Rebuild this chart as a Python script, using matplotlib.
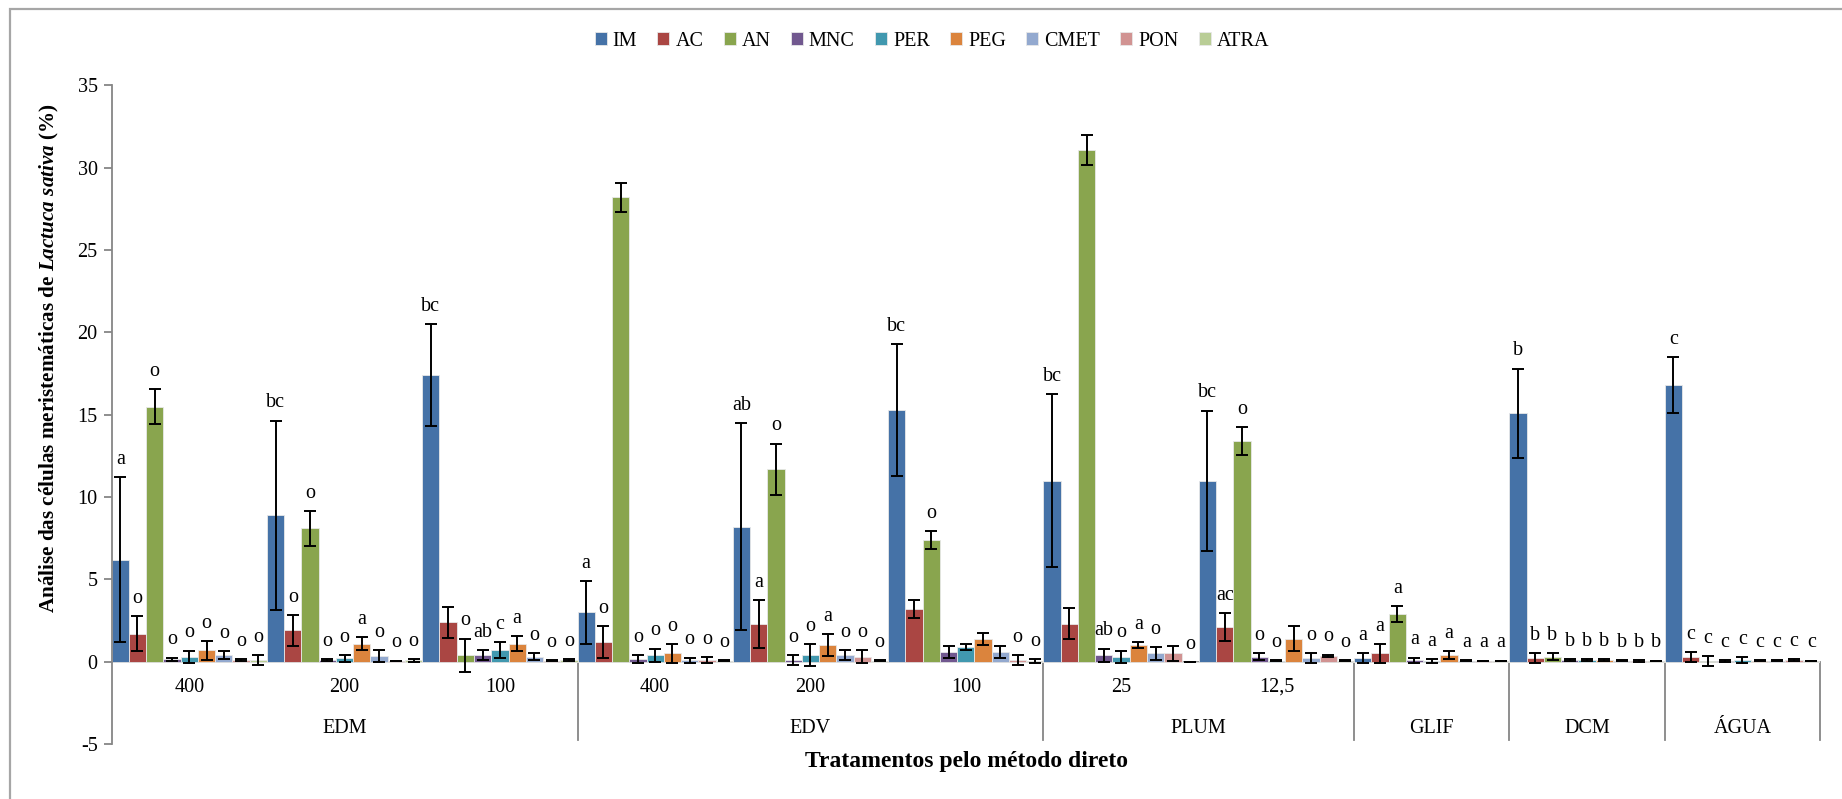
import numpy as np
import matplotlib.pyplot as plt
from matplotlib.patches import Rectangle

plt.rcParams['font.family'] = ['Liberation Serif', 'DejaVu Serif']
plt.rcParams['axes.unicode_minus'] = False
plt.rcParams['mathtext.fontset'] = 'custom'
plt.rcParams['mathtext.rm'] = 'Liberation Serif:bold'
plt.rcParams['mathtext.it'] = 'Liberation Serif:italic:bold'
plt.rcParams['mathtext.bf'] = 'Liberation Serif:bold'

# tratamentos (nivel 1 = concentracao, nivel 2 = grupo)
doses = ['400', '200', '100', '400', '200', '100', '25', '12,5', '', '', '']
grupos = ['EDM', 'EDV', 'PLUM', 'GLIF', 'DCM', 'ÁGUA']
grupo_tam = [3, 3, 2, 1, 1, 1]

series = ['IM', 'AC', 'AN', 'MNC', 'PER', 'PEG', 'CMET', 'PON', 'ATRA']
cores = ['#4572A7', '#AA4643', '#89A54E', '#71588F', '#4198AF',
         '#DB843D', '#93A9CF', '#D19392', '#B9CD96']

IM = [6.2, 8.9, 17.4, 3.0, 8.2, 15.3, 11.0, 11.0, 0.2, 15.1, 16.8]
AC = [1.7, 1.9, 2.4, 1.2, 2.3, 3.2, 2.3, 2.1, 0.5, 0.2, 0.3]
AN = [15.5, 8.1, 0.4, 28.2, 11.7, 7.4, 31.1, 13.4, 2.9, 0.3, 0.05]
MNC = [0.15, 0.1, 0.4, 0.15, 0.1, 0.6, 0.4, 0.3, 0.1, 0.1, 0.05]
PER = [0.3, 0.2, 0.7, 0.4, 0.4, 0.9, 0.3, 0.05, 0.05, 0.1, 0.1]
PEG = [0.7, 1.1, 1.1, 0.5, 1.0, 1.4, 1.0, 1.4, 0.4, 0.1, 0.05]
CMET = [0.4, 0.35, 0.3, 0.1, 0.4, 0.6, 0.5, 0.2, 0.05, 0.05, 0.05]
PON = [0.1, 0.05, 0.05, 0.1, 0.3, 0.1, 0.5, 0.35, 0.05, 0.05, 0.1]
ATRA = [0.1, 0.08, 0.1, 0.05, 0.05, 0.05, 0.0, 0.05, 0.05, 0.05, 0.05]

IM_dp = [5.0, 5.75, 3.1, 1.9, 6.3, 4.0, 5.25, 4.25, 0.3, 2.7, 1.7]
AC_dp = [1.05, 0.95, 0.95, 0.95, 1.45, 0.55, 0.95, 0.85, 0.55, 0.3, 0.3]
AN_dp = [1.05, 1.05, 1.0, 0.9, 1.55, 0.55, 0.9, 0.85, 0.5, 0.2, 0.3]
MNC_dp = [0.1, 0.08, 0.3, 0.25, 0.3, 0.35, 0.4, 0.2, 0.15, 0.05, 0.05]
PER_dp = [0.37, 0.2, 0.47, 0.4, 0.65, 0.2, 0.37, 0.03, 0.12, 0.08, 0.2]
PEG_dp = [0.57, 0.37, 0.46, 0.56, 0.67, 0.37, 0.18, 0.75, 0.26, 0.05, 0.03]
CMET_dp = [0.26, 0.35, 0.2, 0.15, 0.3, 0.36, 0.4, 0.3, 0.03, 0.03, 0.03]
PON_dp = [0.08, 0.02, 0.03, 0.2, 0.4, 0.3, 0.45, 0.08, 0.02, 0.06, 0.06]
ATRA_dp = [0.3, 0.1, 0.05, 0.03, 0.03, 0.12, 0.0, 0.03, 0.02, 0.02, 0.02]

# letras do teste estatistico
IM_let = ['a', 'bc', 'bc', 'a', 'ab', 'bc', 'bc', 'bc', 'a', 'b', 'c']
AC_let = ['o', 'o', '', 'o', 'a', '', '', 'ac', 'a', 'b', 'c']
AN_let = ['o', 'o', 'o', '', 'o', 'o', '', 'o', 'a', 'b', 'c']
MNC_let = ['o', 'o', 'ab', 'o', 'o', '', 'ab', 'o', 'a', 'b', 'c']
PER_let = ['o', 'o', 'c', 'o', 'o', '', 'o', 'o', 'a', 'b', 'c']
PEG_let = ['o', 'a', 'a', 'o', 'a', '', 'a', '', 'a', 'b', 'c']
CMET_let = ['o', 'o', 'o', 'o', 'o', '', 'o', 'o', 'a', 'b', 'c']
PON_let = ['o', 'o', 'o', 'o', 'o', 'o', '', 'o', 'a', 'b', 'c']
ATRA_let = ['o', 'o', 'o', 'o', 'o', 'o', 'o', 'o', 'a', 'b', 'c']

valores = [IM, AC, AN, MNC, PER, PEG, CMET, PON, ATRA]
desvios = [IM_dp, AC_dp, AN_dp, MNC_dp, PER_dp, PEG_dp, CMET_dp, PON_dp, ATRA_dp]
letras = [IM_let, AC_let, AN_let, MNC_let, PER_let, PEG_let, CMET_let, PON_let, ATRA_let]

W, H = 1842, 799
fig = plt.figure(figsize=(W / 100, H / 100), dpi=100)
ax = fig.add_axes([111.6 / W, (H - 744) / H, (1820 - 111.6) / W, (744 - 85.5) / H])

n = len(doses)
x = np.arange(n)
larg = 1.0 / len(series)

for j, nome in enumerate(series):
    pos = x - 0.5 + larg * (j + 0.5)
    ax.bar(pos, valores[j], larg, color=cores[j], edgecolor='#E8E8E8',
           linewidth=0.6, label=nome, zorder=2)
    ax.errorbar(pos, valores[j], yerr=desvios[j], fmt='none', ecolor='black',
                elinewidth=1.4, capsize=4.3, capthick=1.4, zorder=3)
    for k in range(n):
        if letras[j][k]:
            ax.text(pos[k], valores[j][k] + desvios[j][k] + 0.8, letras[j][k],
                    ha='center', va='baseline', fontsize=14.5, zorder=4)

ax.set_xlim(-0.5, n - 0.5)
ax.set_ylim(-5, 35)
ax.set_yticks(range(-5, 36, 5))
ax.set_xticks([])
for s in ['top', 'right', 'bottom']:
    ax.spines[s].set_visible(False)
ax.spines['left'].set_color('#868686')
ax.spines['left'].set_linewidth(1.3)
ax.tick_params(axis='y', length=6, width=1.3, color='#868686', labelsize=14.5, pad=4)
ax.axhline(0, color='#868686', lw=1.3, zorder=1)

# eixo de categorias em dois niveis
for k, d in enumerate(doses):
    ax.text(k, -1.55, d, ha='center', va='center', fontsize=14.5)
ini = 0
for g, t in zip(grupos, grupo_tam):
    ax.text(ini + (t - 1) / 2, -4.05, g, ha='center', va='center', fontsize=14.5)
    ini += t
    ax.plot([ini - 0.5, ini - 0.5], [0, -4.75], color='#868686', lw=1.3,
            clip_on=False, zorder=1)

fig.legend(loc='center', bbox_to_anchor=(932 / W, 1 - 41 / H), ncol=9,
           frameon=False, fontsize=14.5, handlelength=0.6, handleheight=0.6,
           handletextpad=0.3, columnspacing=1.0)

fig.text(49 / W, 1 - 358 / H,
         r'Análise das células meristemáticas de $Lactuca\ sativa$ (%)',
         rotation=90, ha='center', va='center', fontsize=15.2, fontweight='bold')
fig.text(966 / W, 1 - 762 / H, 'Tratamentos pelo método direto',
         ha='center', va='center', fontsize=17, fontweight='bold')

fig.patches.append(Rectangle((10 / W, -0.1), 1.2, 1.1 - 9 / H, transform=fig.transFigure,
                             fill=False, edgecolor='#A6A6A6', lw=1.6))

fig.savefig('out.png', dpi=100)
